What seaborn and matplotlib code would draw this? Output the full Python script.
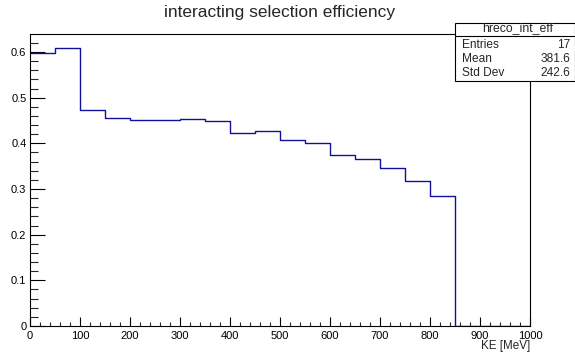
import numpy as np
import matplotlib
matplotlib.use("Agg")
import matplotlib.pyplot as plt
from matplotlib.patches import Rectangle
from matplotlib.ticker import MultipleLocator
import seaborn as sns

# Binned efficiency vs kinetic energy (50 MeV bins, 0-1000 MeV)
bin_edges = list(range(0, 1050, 50))
efficiency = [0.598, 0.609, 0.473, 0.455, 0.451, 0.451, 0.453, 0.450,
              0.423, 0.427, 0.407, 0.400, 0.374, 0.366, 0.347, 0.317,
              0.284, 0.0, 0.0, 0.0]
stat_names = ["Entries", "Mean", "Std Dev"]
stat_values = ["17", "381.6", "242.6"]
hist_name = "hreco_int_eff"
title = "interacting selection efficiency"
x_label = "KE [MeV]"

sns.set_theme(style="ticks")
plt.rcParams["font.family"] = ["Liberation Sans", "DejaVu Sans"]

W, H = 575, 356
DPI = 100
fig = plt.figure(figsize=(W / DPI, H / DPI), dpi=DPI)

# frame in pixel coordinates
x0, x1 = 30, 530
y_top, y_bot = 34, 326
ax = fig.add_axes([x0 / W, 1 - y_bot / H, (x1 - x0) / W, (y_bot - y_top) / H])

centers = [(a + b) / 2 for a, b in zip(bin_edges[:-1], bin_edges[1:])]
sns.histplot(x=centers, weights=efficiency, bins=bin_edges, element="step",
             fill=False, color="#10109c", linewidth=1.0, ax=ax)

ax.set_xlim(0, 1000)
ax.set_ylim(0, 1.05 * max(efficiency))
ax.set_ylabel("")
ax.set_xlabel("")

for s in ax.spines.values():
    s.set_linewidth(0.8)
    s.set_color("black")
    s.set_visible(True)

ax.xaxis.set_major_locator(MultipleLocator(100))
ax.xaxis.set_minor_locator(MultipleLocator(20))
ax.yaxis.set_major_locator(MultipleLocator(0.1))
ax.yaxis.set_minor_locator(MultipleLocator(0.02))
ax.tick_params(axis="x", which="major", direction="in", length=6.3, width=0.8,
               labelsize=8, pad=3.8, top=False, colors="black")
ax.tick_params(axis="x", which="minor", direction="in", length=3.2, width=0.8, top=False)
ax.tick_params(axis="y", which="major", direction="in", length=10.8, width=0.8,
               labelsize=8, pad=2.6, right=False, colors="black")
ax.tick_params(axis="y", which="minor", direction="in", length=5.4, width=0.8, right=False)
ax.set_yticks(np.arange(0, 0.61, 0.1))
ax.set_yticklabels(["0", "0.1", "0.2", "0.3", "0.4", "0.5", "0.6"])
ax.set_xticks(range(0, 1001, 100))
ax.set_xticklabels([str(v) for v in range(0, 1001, 100)])

def fx(px):
    return px / W

def fy(py):
    return 1 - py / H

fig.text(fx(x1), fy(346.5), x_label, ha="right", va="center", fontsize=8.4)
fig.text(fx(280), fy(12.5), title, ha="center", va="center", fontsize=12.5)

# statistics box
bx0, bx1, by0, by1 = 455, 574.5, 22.7, 81
fig.patches.append(Rectangle((fx(bx0), fy(by1)), fx(bx1 - bx0), (by1 - by0) / H,
                             transform=fig.transFigure, facecolor="white",
                             edgecolor="black", linewidth=0.8, zorder=5))
fig.lines.append(plt.Line2D([fx(bx0), fx(bx1)], [fy(35.5), fy(35.5)],
                            transform=fig.transFigure, color="black",
                            linewidth=0.8, zorder=6))
fig.text(fx(518), fy(28.0), hist_name, ha="center", va="center", fontsize=8.8, zorder=7)
for i, (n, v) in enumerate(zip(stat_names, stat_values)):
    yy = fy(45 + 14.2 * i)
    fig.text(fx(461.5), yy, n, ha="left", va="center", fontsize=8.6, zorder=7)
    fig.text(fx(570.5), yy, v, ha="right", va="center", fontsize=8.6, zorder=7)

fig.savefig("out.png", dpi=DPI)
